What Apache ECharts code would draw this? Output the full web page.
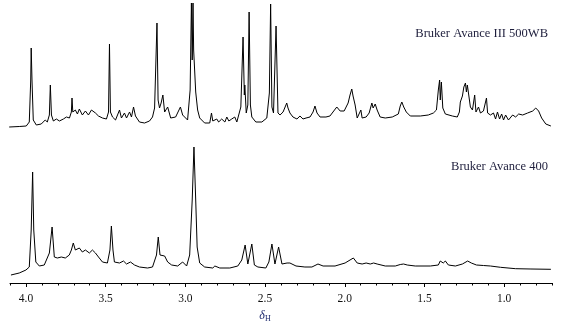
<!DOCTYPE html>
<html>
<head>
<meta charset="utf-8">
<script src="https://cdn.jsdelivr.net/npm/echarts@6/dist/echarts.min.js"></script>
<style>
  html, body { margin: 0; padding: 0; background: #fff; }
  #main { width: 565px; height: 332px; }
</style>
</head>
<body>
<div id="main"></div>
<script>
// chemical shift (ppm) and intensity (a.u., relative to each trace's baseline)
var ppm500 = [4.105, 4.042, 3.998, 3.979, 3.970, 3.967, 3.962, 3.954, 3.935, 3.904, 3.879, 3.866, 3.853, 3.847, 3.840,
  3.828, 3.809, 3.790, 3.765, 3.746, 3.727, 3.715, 3.711, 3.706, 3.690, 3.677, 3.665, 3.646, 3.627, 3.608,
  3.589, 3.577, 3.564, 3.545, 3.520, 3.495, 3.482, 3.476, 3.470, 3.457, 3.438, 3.413, 3.401, 3.382, 3.369,
  3.350, 3.338, 3.325, 3.313, 3.288, 3.256, 3.225, 3.206, 3.193, 3.178, 3.171, 3.162, 3.152, 3.141, 3.130,
  3.111, 3.092, 3.061, 3.031, 3.017, 2.986, 2.970, 2.962, 2.957, 2.952, 2.948, 2.935, 2.923, 2.910, 2.879,
  2.847, 2.836, 2.828, 2.803, 2.791, 2.772, 2.752, 2.740, 2.727, 2.709, 2.690, 2.677, 2.652, 2.638, 2.630,
  2.627, 2.618, 2.608, 2.600, 2.592, 2.583, 2.558, 2.520, 2.489, 2.473, 2.465, 2.457, 2.447, 2.431, 2.419,
  2.406, 2.387, 2.364, 2.356, 2.344, 2.325, 2.300, 2.281, 2.262, 2.243, 2.218, 2.199, 2.187, 2.174, 2.155,
  2.118, 2.093, 2.050, 2.029, 2.004, 1.979, 1.967, 1.956, 1.948, 1.935, 1.922, 1.899, 1.891, 1.866, 1.847,
  1.830, 1.822, 1.809, 1.797, 1.778, 1.746, 1.702, 1.664, 1.652, 1.642, 1.630, 1.614, 1.589, 1.526, 1.476,
  1.444, 1.425, 1.413, 1.405, 1.401, 1.394, 1.385, 1.369, 1.325, 1.294, 1.281, 1.275, 1.262, 1.253, 1.243,
  1.237, 1.231, 1.218, 1.212, 1.199, 1.185, 1.177, 1.161, 1.149, 1.130, 1.111, 1.104, 1.086, 1.067, 1.054,
  1.042, 1.029, 1.016, 1.004, 0.991, 0.973, 0.947, 0.928, 0.909, 0.884, 0.853, 0.821, 0.802, 0.784, 0.765,
  0.739, 0.707];
var int500 = [0, 0.5, 1, 5, 47, 79, 47, 7, 2, 3, 7, 5, 12, 42, 12,
  6, 8, 6, 8, 10, 9, 15, 29, 15, 17, 13, 18, 12, 16, 12,
  17, 19, 14, 11, 9, 8, 15, 83, 15, 10, 7, 17, 9, 14, 9,
  15, 10, 20, 11, 5, 4, 6, 10, 19, 104, 27, 19, 24, 32, 15,
  20, 9, 10, 20, 12, 7, 37, 124, 67, 124, 77, 35, 17, 9, 4,
  4, 14, 6, 8, 5, 8, 5, 10, 6, 8, 10, 5, 20, 90, 32,
  42, 14, 22, 115, 22, 10, 5, 5, 9, 34, 123, 20, 14, 101, 14,
  12, 15, 24, 19, 14, 10, 8, 11, 8, 9, 10, 15, 21, 14, 10,
  10, 11, 20, 16, 16, 24, 32, 38, 31, 22, 9, 17, 9, 10, 14,
  24, 19, 23, 17, 10, 9, 10, 13, 21, 25, 20, 15, 11, 11, 12,
  14, 17, 37, 47, 27, 45, 19, 13, 11, 10, 15, 25, 31, 40, 44,
  35, 42, 27, 20, 17, 32, 15, 20, 14, 16, 29, 14, 12, 14, 8,
  15, 8, 13, 7, 12, 7, 12, 10, 13, 12, 14, 16, 19, 16, 9,
  3, 1];

var ppm400 = [4.094, 4.042, 4.000, 3.979, 3.967, 3.958, 3.951, 3.938, 3.916, 3.885, 3.853, 3.836, 3.822, 3.803, 3.778,
  3.753, 3.728, 3.715, 3.703, 3.690, 3.665, 3.646, 3.627, 3.602, 3.583, 3.564, 3.545, 3.520, 3.489, 3.473,
  3.464, 3.454, 3.445, 3.413, 3.388, 3.369, 3.344, 3.319, 3.288, 3.237, 3.206, 3.181, 3.170, 3.159, 3.149,
  3.130, 3.111, 3.086, 3.048, 3.017, 2.992, 2.973, 2.957, 2.946, 2.935, 2.926, 2.910, 2.879, 2.828, 2.815,
  2.784, 2.721, 2.671, 2.646, 2.625, 2.608, 2.599, 2.583, 2.567, 2.545, 2.495, 2.476, 2.457, 2.438, 2.415,
  2.394, 2.362, 2.344, 2.306, 2.250, 2.206, 2.168, 2.136, 2.061, 1.998, 1.967, 1.946, 1.922, 1.891, 1.866,
  1.840, 1.819, 1.797, 1.746, 1.683, 1.652, 1.631, 1.608, 1.558, 1.463, 1.413, 1.401, 1.390, 1.382, 1.369,
  1.350, 1.306, 1.262, 1.229, 1.206, 1.174, 1.130, 1.086, 1.023, 0.928, 0.832, 0.707];
var int400 = [0, 2, 5, 8, 45, 103, 45, 13, 9, 10, 22, 48, 18, 17, 18,
  17, 20, 25, 32, 25, 27, 23, 25, 22, 25, 22, 18, 13, 12, 25,
  49, 25, 13, 12, 14, 11, 13, 10, 8, 7, 8, 20, 38, 20, 18,
  19, 13, 10, 9, 13, 9, 20, 75, 128, 75, 28, 12, 8, 7, 9,
  7, 7, 9, 15, 30, 11, 11, 31, 10, 8, 7, 13, 31, 11, 28,
  11, 12, 12, 9, 8, 8, 11, 9, 9, 12, 15, 17, 12, 11, 12,
  11, 12, 11, 9, 9, 10.5, 11, 10, 9, 9, 10, 14, 14, 12, 14,
  10, 9, 11, 14, 12, 10, 9.5, 9, 7.7, 6.3, 6, 5.7];

var majorTicks = [4.0, 3.5, 3.0, 2.5, 2.0, 1.5, 1.0];
var minorTicks = [4.1, 3.9, 3.8, 3.7, 3.6, 3.4, 3.3, 3.2, 3.1, 2.9, 2.8, 2.7, 2.6, 2.4, 2.3, 2.2, 2.1,
  1.9, 1.8, 1.7, 1.6, 1.4, 1.3, 1.2, 1.1, 0.9, 0.8, 0.7];

var offset500 = 156;
var offset400 = 8;

function stacked(xs, ys, off) {
  return xs.map(function (x, i) { return [x, ys[i] + off]; });
}

var serif = "'Liberation Serif', 'Times New Roman', serif";
var chart = echarts.init(document.getElementById('main'));

chart.setOption({
  animation: false,
  grid: {left: 10, right: 13, top: 0, bottom: 49},
  xAxis: [{
    type: 'value', inverse: true, min: 0.7, max: 4.1, position: 'bottom',
    axisLine: {lineStyle: {color: '#000', width: 1}},
    axisTick: {customValues: majorTicks, length: 4, lineStyle: {color: '#000'}},
    axisLabel: {
      customValues: majorTicks, margin: 10, color: '#111', fontSize: 11.5, fontFamily: serif,
      formatter: function (v) { return v.toFixed(1); }
    },
    splitLine: {show: false}
  }, {
    type: 'value', inverse: true, min: 0.7, max: 4.1, position: 'bottom',
    axisLine: {show: false},
    axisTick: {customValues: minorTicks, length: 2.5, lineStyle: {color: '#000'}},
    axisLabel: {show: false},
    splitLine: {show: false}
  }],
  yAxis: {type: 'value', min: 0, max: 283, show: false},
  series: [{
    name: 'Bruker Avance III 500WB', type: 'line', xAxisIndex: 0,
    data: stacked(ppm500, int500, offset500),
    showSymbol: false, lineStyle: {color: '#000', width: 1}
  }, {
    name: 'Bruker Avance 400', type: 'line', xAxisIndex: 0,
    data: stacked(ppm400, int400, offset400),
    showSymbol: false, lineStyle: {color: '#000', width: 1}
  }],
  graphic: [{
    type: 'text', x: 548, y: 34,
    style: {text: 'Bruker Avance III 500WB', align: 'right', verticalAlign: 'middle',
      fill: '#1e1e3c', font: '12.5px ' + serif}
  }, {
    type: 'text', x: 548, y: 167,
    style: {text: 'Bruker Avance 400', align: 'right', verticalAlign: 'middle',
      fill: '#1e1e3c', font: '12.5px ' + serif}
  }, {
    type: 'text', x: 265, y: 316,
    style: {
      text: '{d|δ}{h|H}', align: 'center', verticalAlign: 'middle',
      rich: {
        d: {fontStyle: 'italic', fontSize: 12, fontFamily: serif, fill: '#1e2a6e'},
        h: {fontSize: 8, fontFamily: serif, fill: '#1e2a6e', padding: [6, 0, 0, 0]}
      }
    }
  }]
});
</script>
</body>
</html>
